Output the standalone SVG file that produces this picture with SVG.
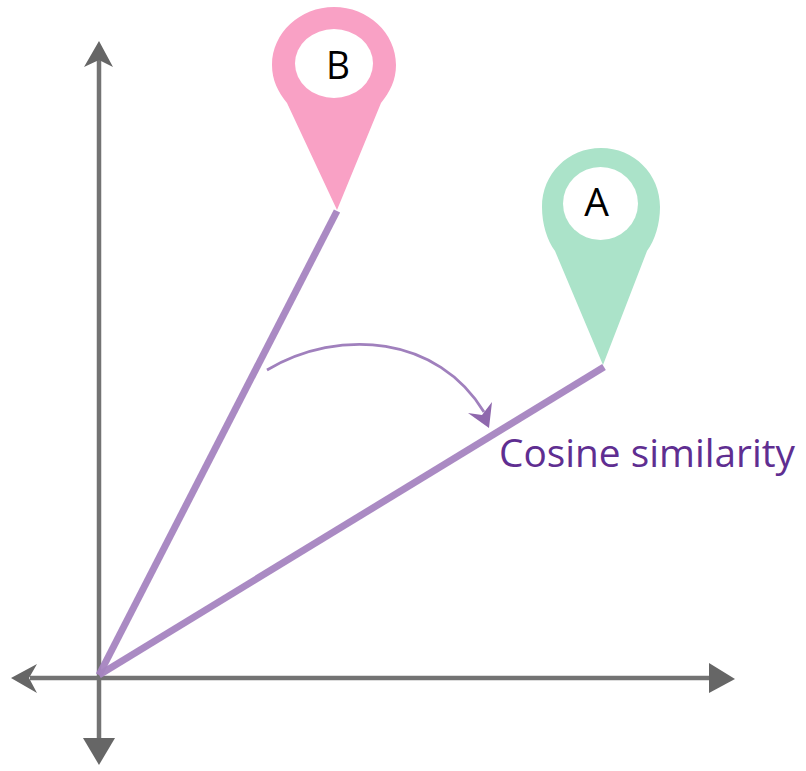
<svg xmlns="http://www.w3.org/2000/svg" width="806" height="771" viewBox="0 0 806 771">
<style>
.axis{stroke:#737373;stroke-width:4.5;fill:none}
.head{fill:#666666}
.vec{stroke:#a584c0;stroke-width:7;fill:none;stroke-opacity:.95}
.lab{font-family:"Open Sans","Noto Sans",sans-serif;fill:#000;font-size:39px}
</style>
<rect width="806" height="771" fill="#fff"/>
<g id="connectors">
<path class="axis" d="M99 60V745"/>
<path class="axis" d="M30 678H712"/>
<path class="head" d="M99 41L113 67L99 60L84 67Z"/>
<path class="head" d="M99 765L83 738H115Z"/>
<path class="head" d="M11 678L37 664L29 678L37 693Z"/>
<path class="head" d="M735 679L709 663V693Z"/>
<path class="vec" d="M99 675L337 211"/>
<path class="vec" d="M99 675L604 367"/>
<path d="M267 370C340 327 438 336 484 412" fill="none" stroke="#a080bd" stroke-width="2.8"/>
<path d="M489 428L468 413L482 415L492 402Z" fill="#8f68ad"/>
</g>
<g id="node-b">
<path fill="#f9a1c5" d="M337 210L287 103C278 92 272 80 272 65C272 33 300 7 334 7C368 7 396 33 396 65C396 80 390 92 381 103Z"/>
<ellipse cx="334" cy="63.5" rx="39" ry="34.5" fill="#fff"/>
<text class="lab" x="338" y="79" text-anchor="middle" textLength="24" lengthAdjust="spacingAndGlyphs">B</text>
</g>
<g id="node-a">
<path fill="#abe3c9" d="M603 365L555 251C547 240 542 224 542 207C542 174 568 148 601 148C634 148 660 174 660 207C660 224 655 240 647 251Z"/>
<ellipse cx="600.5" cy="203.5" rx="37.5" ry="36.5" fill="#fff"/>
<text class="lab" x="596.5" y="216" text-anchor="middle">A</text>
</g>
<g id="label">
<text x="499" y="467" font-family="'Open Sans','Noto Sans',sans-serif" font-size="39" fill="#5f2e91" textLength="296" lengthAdjust="spacingAndGlyphs">Cosine similarity</text>
</g>
</svg>
